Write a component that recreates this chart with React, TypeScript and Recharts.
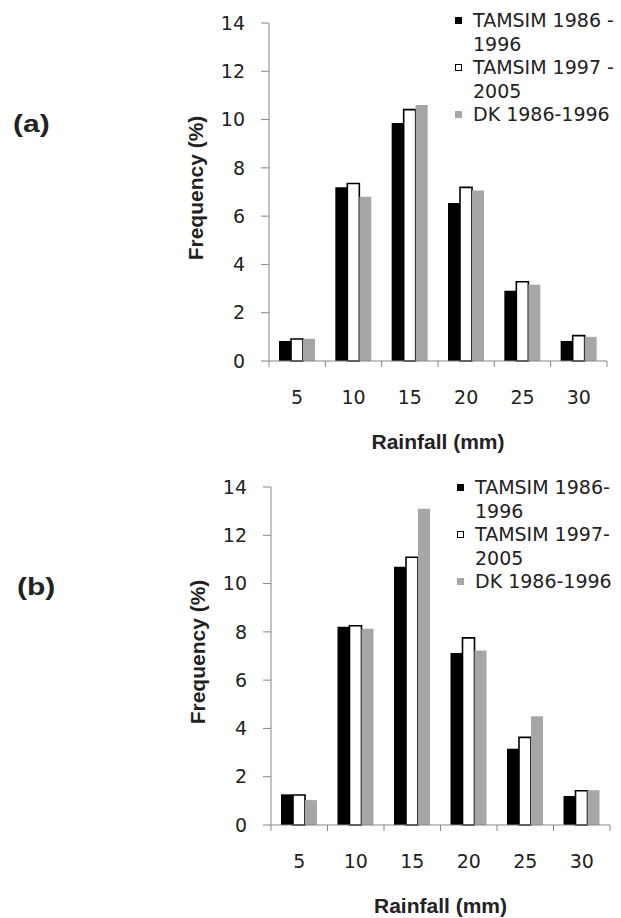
import React from "react";
import { BarChart, Bar, XAxis, YAxis, Legend } from "recharts";

const CATEGORIES = ["5", "10", "15", "20", "25", "30"];
const Y_TICKS = [0, 2, 4, 6, 8, 10, 12, 14];

// panel (a)
const A_TAMSIM_8696 = [0.83, 7.2, 9.86, 6.54, 2.91, 0.83];
const A_TAMSIM_9705 = [0.91, 7.35, 10.41, 7.19, 3.28, 1.05];
const A_DK_8696 = [0.92, 6.8, 10.6, 7.06, 3.16, 1.0];
const A_NAMES = ["TAMSIM 1986 -\n1996", "TAMSIM 1997 -\n2005", "DK 1986-1996"];

// panel (b)
const B_TAMSIM_8696 = [1.27, 8.21, 10.7, 7.12, 3.16, 1.2];
const B_TAMSIM_9705 = [1.24, 8.25, 11.09, 7.75, 3.63, 1.42];
const B_DK_8696 = [1.03, 8.13, 13.1, 7.23, 4.5, 1.44];
const B_NAMES = ["TAMSIM 1986-\n1996", "TAMSIM 1997-\n2005", "DK 1986-1996"];

const AXIS = "#868686";
const INK = "#222";
const GREY = "#a6a6a6";
const ARIAL = "'Liberation Sans', Arial, Helvetica, sans-serif";
const X_TICK_SIZE = 6;
const X_TICK_MARGIN = 23.5;

function rows(s1: number[], s2: number[], s3: number[]) {
  return CATEGORIES.map((c, i) => ({ rain: c, s1: s1[i], s2: s2[i], s3: s3[i] }));
}

// category labels + Excel-style tick marks on the band edges
function RainTick(props: any) {
  const { x, y, payload, index, visibleTicksCount, width } = props;
  const half = payload.offset ?? width / (2 * CATEGORIES.length);
  const axisY = y - X_TICK_SIZE - X_TICK_MARGIN;
  return (
    <g>
      <line x1={x - half} x2={x - half} y1={axisY} y2={axisY + X_TICK_SIZE} stroke={AXIS} />
      {index === visibleTicksCount - 1 && (
        <line x1={x + half} x2={x + half} y1={axisY} y2={axisY + X_TICK_SIZE} stroke={AXIS} />
      )}
      <text x={x} y={y} dy="0.71em" textAnchor="middle" fill={INK}
        style={{ fontFamily: "DejaVu Sans", fontSize: 19 }}>
        {payload.value}
      </text>
    </g>
  );
}

function XTitle({ viewBox }: any) {
  return (
    <text x={viewBox.x + viewBox.width / 2} y={viewBox.y + 88} textAnchor="middle" fill={INK}
      fontFamily={ARIAL} fontWeight={700} fontSize={21}>
      Rainfall (mm)
    </text>
  );
}

function YTitle({ viewBox }: any) {
  const cx = viewBox.x + 195;
  const cy = viewBox.y + viewBox.height / 2 - 4;
  return (
    <text x={cx} y={cy} textAnchor="middle" dominantBaseline="central" fill={INK}
      transform={`rotate(-90, ${cx}, ${cy})`}
      fontFamily={ARIAL} fontWeight={700} fontSize={21}>
      Frequency (%)
    </text>
  );
}

function SeriesLegend({ payload }: any) {
  const items = [...(payload ?? [])].sort((a, b) => String(a.dataKey).localeCompare(String(b.dataKey)));
  return (
    <div style={{ fontFamily: "DejaVu Sans", fontSize: 19, lineHeight: "23.5px", color: INK }}>
      {items.map((p: any) => (
        <div key={p.dataKey} style={{ display: "flex", alignItems: "flex-start" }}>
          <span
            style={{
              width: 7, height: 7, boxSizing: "border-box", marginTop: 8, marginRight: 11, flex: "none",
              background: p.color,
              border: p.payload?.stroke ? `1.5px solid ${p.payload.stroke}` : "none",
            }}
          />
          <div>
            {String(p.value).split("\n").map((l) => (
              <div key={l}>{l}</div>
            ))}
          </div>
        </div>
      ))}
    </div>
  );
}

function Panel({ data, names, left, right, legendPos }: any) {
  return (
    <BarChart width={621} height={456} data={data} barCategoryGap={10} barGap={0}
      margin={{ top: 23, right, left, bottom: 6 }}>
      <XAxis dataKey="rain" height={89} tickLine={false} stroke={AXIS}
        tickSize={X_TICK_SIZE} tickMargin={X_TICK_MARGIN} tick={<RainTick />} interval={0}
        label={XTitle} />
      <YAxis domain={[0, 14]} ticks={Y_TICKS} width={269} stroke={AXIS} tickSize={8} tickMargin={16}
        tick={{ fill: INK, fontSize: 19, fontFamily: "DejaVu Sans" }} label={YTitle} />
      <Legend layout="horizontal" verticalAlign="middle" align="center" content={SeriesLegend}
        wrapperStyle={{ ...legendPos, width: 166 }} />
      <Bar dataKey="s1" name={names[0]} fill="#000" isAnimationActive={false} />
      <Bar dataKey="s2" name={names[1]} fill="#fff" stroke="#000" strokeWidth={1.6} isAnimationActive={false} />
      <Bar dataKey="s3" name={names[2]} fill={GREY} isAnimationActive={false} />
    </BarChart>
  );
}

const panelLabel: React.CSSProperties = {
  position: "absolute", fontFamily: ARIAL, fontWeight: 700, fontSize: 24,
  lineHeight: "24px", color: INK, transform: "scaleX(1.25)", transformOrigin: "left center",
};

export default function App() {
  return (
    <div style={{ position: "absolute", left: 0, top: 0, width: 621, height: 918, background: "#fff", overflow: "hidden" }}>
      <div style={{ ...panelLabel, left: 13, top: 112 }}>(a)</div>
      <div style={{ ...panelLabel, left: 17, top: 575 }}>(b)</div>
      <div style={{ position: "absolute", left: 0, top: 0 }}>
        <Panel data={rows(A_TAMSIM_8696, A_TAMSIM_9705, A_DK_8696)} names={A_NAMES}
          left={0} right={14} legendPos={{ left: 455, top: 9 }} />
      </div>
      <div style={{ position: "absolute", left: 0, top: 464 }}>
        <Panel data={rows(B_TAMSIM_8696, B_TAMSIM_9705, B_DK_8696)} names={B_NAMES}
          left={2} right={11} legendPos={{ left: 457, top: 12 }} />
      </div>
    </div>
  );
}
